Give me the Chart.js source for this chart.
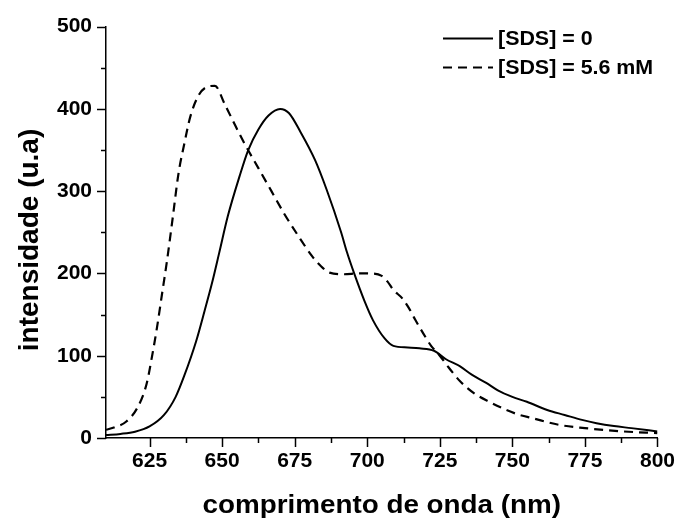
<!DOCTYPE html>
<html>
<head>
<meta charset="utf-8">
<script src="https://cdn.jsdelivr.net/npm/chart.js@4.4.1/dist/chart.umd.min.js"></script>
<style>
html,body{margin:0;padding:0;background:#fff;}
#c{display:block;}
</style>
</head>
<body>
<canvas id="c" width="686" height="519"></canvas>
<script>
// ---- data ----
const wavelengthSDS0 = [610,615,620,625,630,634,637,641,644,646.5,649,652,656,659,662.5,666,670,673,677,682,686,691,693,695.5,699,702,706,709,714,718,723,727,732,736,741,745,750,755,762,768,774,779,785,791,800];
const intensitySDS0  = [3.6,5,7.6,14,28,50,76,117,155,188,225,270,318,350,375,392,400,395,372,338,302,250,226,200,167,143,121,112,110,109,106,96,87,77,67,58,50,44,34,28,22,18,14.5,12,8];

const wavelengthSDS56 = [610,613,617,621,624,626,627.6,629.3,631,633,635,637,639,642,645,647.5,651,654.5,658,662.5,667,671.5,676,681,684,687,692,697,701,705,707,709,712,714,716.5,720,722,725,728,732,737,742,748,752,757,766,775,788,800];
const intensitySDS56  = [10,13,20,38,66,102,135,175,215,268,322,358,390,417,427,428,405,380,356,328,300,272,247,221,209,201,199,200,200,197,190,180,170,160,144,123,112,100,86,69,54,44,34,28.6,24,16,12,8,6];

const seriesLabels = ['[SDS] = 0', '[SDS] = 5.6 mM'];
const xTitleText = 'comprimento de onda (nm)';
const yTitleText = 'intensidade (u.a)';
const xRange = [610, 800];
const yRange = [0, 500];
const xMajorStep = 25, xMinorStep = 12.5;
const yMajorStep = 100, yMinorStep = 50;

const FONT = '"Liberation Sans", Arial, Helvetica, sans-serif';

function toPoints(xs, ys) { return xs.map((x, i) => ({x: x, y: ys[i]})); }

const tickMarks = {
  id: 'tickMarks',
  afterDraw(chart) {
    const ctx = chart.ctx, xs = chart.scales.x, ys = chart.scales.y;
    const area = chart.chartArea;
    ctx.save();
    ctx.strokeStyle = '#000';
    ctx.lineWidth = 1.5;
    xs.ticks.forEach(t => {
      if (t.value <= xRange[0]) return;
      const px = Math.round(xs.getPixelForValue(t.value)) + 0.5;
      const major = Math.abs(t.value % xMajorStep) < 1e-6;
      ctx.beginPath();
      ctx.moveTo(px, area.bottom);
      ctx.lineTo(px, area.bottom + (major ? 9 : 5));
      ctx.stroke();
    });
    ys.ticks.forEach(t => {
      const py = Math.round(ys.getPixelForValue(t.value)) + 0.5;
      const major = Math.abs(t.value % yMajorStep) < 1e-6;
      ctx.beginPath();
      ctx.moveTo(area.left, py);
      ctx.lineTo(area.left - (major ? 9 : 5), py);
      ctx.stroke();
    });
    ctx.restore();
  }
};

const titlesAndLegend = {
  id: 'titlesAndLegend',
  afterDraw(chart) {
    const ctx = chart.ctx;
    const area = chart.chartArea;
    ctx.save();
    ctx.fillStyle = '#000';
    // x title
    ctx.font = 'bold 26px ' + FONT;
    ctx.textAlign = 'center';
    ctx.textBaseline = 'alphabetic';
    ctx.save();
    ctx.translate((area.left + area.right) / 2, 513);
    ctx.scale(1.07, 1);
    ctx.fillText(xTitleText, 0, 0);
    ctx.restore();
    // y title
    ctx.save();
    ctx.font = 'bold 28px ' + FONT;
    ctx.translate(38, 240);
    ctx.rotate(-Math.PI / 2);
    ctx.fillText(yTitleText, 0, 0);
    ctx.restore();
    // legend
    const ds = chart.data.datasets;
    const rows = [{lineY: 38.5, textY: 44.5}, {lineY: 67.5, textY: 73.5}];
    ds.forEach((d, i) => {
      const r = rows[i];
      ctx.save();
      ctx.strokeStyle = d.borderColor;
      ctx.lineWidth = 2;
      ctx.setLineDash(d.borderDash || []);
      ctx.beginPath();
      ctx.moveTo(443, r.lineY);
      ctx.lineTo(493, r.lineY);
      ctx.stroke();
      ctx.restore();
      ctx.save();
      ctx.font = 'bold 20px ' + FONT;
      ctx.textAlign = 'left';
      ctx.textBaseline = 'alphabetic';
      ctx.translate(498, r.textY);
      ctx.scale(1.07, 1);
      ctx.fillText(d.label, 0, 0);
      ctx.restore();
    });
    ctx.restore();
  }
};

new Chart(document.getElementById('c'), {
  type: 'line',
  data: {
    datasets: [
      {
        label: seriesLabels[0],
        data: toPoints(wavelengthSDS0, intensitySDS0),
        borderColor: '#000',
        borderWidth: 2,
        pointRadius: 0,
        fill: false,
        cubicInterpolationMode: 'monotone'
      },
      {
        label: seriesLabels[1],
        data: toPoints(wavelengthSDS56, intensitySDS56),
        borderColor: '#000',
        borderWidth: 2.2,
        borderDash: [9, 6],
        pointRadius: 0,
        fill: false,
        cubicInterpolationMode: 'monotone'
      }
    ]
  },
  options: {
    responsive: false,
    animation: false,
    devicePixelRatio: 1,
    layout: {padding: {left: 0, right: 20, top: 24, bottom: 0}},
    plugins: {legend: {display: false}, tooltip: {enabled: false}},
    scales: {
      x: {
        type: 'linear',
        min: xRange[0], max: xRange[1],
        afterFit(s) { s.height = 81; },
        grid: {display: false, drawTicks: false},
        border: {display: true, color: '#000', width: 1.5},
        ticks: {
          stepSize: xMinorStep,
          autoSkip: false,
          maxRotation: 0,
          padding: 11,
          color: '#000',
          font: {family: FONT, size: 21, weight: 'bold'},
          callback: v => (Math.abs(v % xMajorStep) < 1e-6 ? String(v) : '')
        }
      },
      y: {
        type: 'linear',
        min: yRange[0], max: yRange[1],
        afterFit(s) { s.width = 106; },
        grid: {display: false, drawTicks: false},
        border: {display: true, color: '#000', width: 1.5},
        ticks: {
          stepSize: yMinorStep,
          autoSkip: false,
          padding: 14,
          color: '#000',
          font: {family: FONT, size: 21, weight: 'bold'},
          callback: v => (Math.abs(v % yMajorStep) < 1e-6 ? String(v) : '')
        }
      }
    }
  },
  plugins: [tickMarks, titlesAndLegend]
});
</script>
</body>
</html>
